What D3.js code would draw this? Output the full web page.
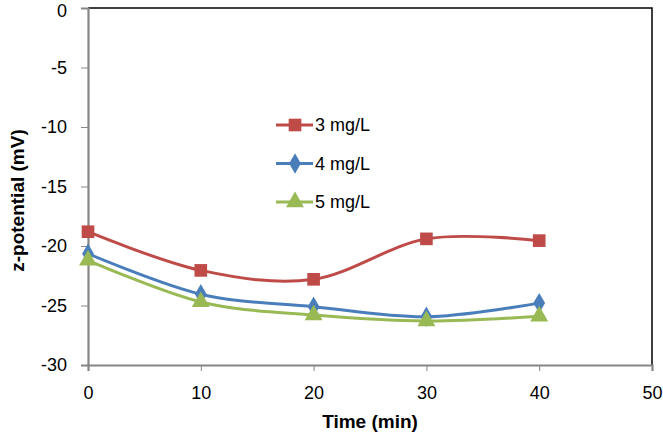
<!DOCTYPE html>
<html>
<head>
<meta charset="utf-8">
<script src="https://cdn.jsdelivr.net/npm/d3@7"></script>
<style>
  body { margin: 0; background: #fff; }
  svg { display: block; }
</style>
</head>
<body>
<div id="chart"></div>
<script>
const times = [0, 10, 20, 30, 40];
const seriesNames = ["3 mg/L", "4 mg/L", "5 mg/L"];
const values3 = [-18.8, -22.05, -22.8, -19.4, -19.55];
const values4 = [-20.65, -24.05, -25.1, -25.95, -24.8];
const values5 = [-21.2, -24.7, -25.8, -26.3, -25.9];
const xTicks = [0, 10, 20, 30, 40, 50];
const yTicks = [0, -5, -10, -15, -20, -25, -30];

const width = 663, height = 434;
const margin = { top: 8, right: 11, bottom: 69, left: 88 };

const svg = d3.select("#chart")
  .append("svg")
  .attr("width", width)
  .attr("height", height);

const x = d3.scaleLinear().domain([0, 50]).range([margin.left, width - margin.right]);
const y = d3.scaleLinear().domain([-30, 0]).range([height - margin.bottom, margin.top]);

const fontFam = "'Liberation Sans', Arial, sans-serif";
const axisColor = "#868686";

// plot area border (top & right)
svg.append("path")
  .attr("d", `M${x(0)},${y(0)}H${x(50)}V${y(-30)}`)
  .attr("fill", "none")
  .attr("stroke", "#000")
  .attr("stroke-width", 1.5);

const xAxis = svg.append("g")
  .attr("transform", `translate(0,${y(-30)})`)
  .call(d3.axisBottom(x).tickValues(xTicks).tickSize(6).tickPadding(15));
const yAxis = svg.append("g")
  .attr("transform", `translate(${x(0)},0)`)
  .call(d3.axisLeft(y).tickValues(yTicks).tickSize(7).tickPadding(14).tickFormat(d3.format("d")));

[xAxis, yAxis].forEach(ax => {
  ax.select(".domain").attr("stroke", axisColor).attr("stroke-width", 2.2);
  ax.selectAll(".tick line").attr("stroke", axisColor).attr("stroke-width", 1);
  ax.selectAll(".tick text")
    .attr("fill", "#000")
    .style("font-size", "18px")
    .style("font-family", fontFam);
});
yAxis.selectAll(".tick text")
  .text(d => d === 0 ? "0" : "-" + Math.abs(d))
  .attr("dy", d => d === 0 ? "0.45em" : "0.32em");

svg.append("text")
  .attr("x", (x(0) + x(50)) / 2)
  .attr("y", 428)
  .attr("text-anchor", "middle")
  .style("font-size", "19px")
  .style("font-weight", "bold")
  .style("font-family", fontFam)
  .text("Time (min)");

svg.append("text")
  .attr("transform", `translate(24,${(y(0) + y(-30)) / 2 + 14}) rotate(-90)`)
  .attr("text-anchor", "middle")
  .style("font-size", "19px")
  .style("font-weight", "bold")
  .style("font-family", fontFam)
  .text("z-potential (mV)");

const colors = ["#BE4B48", "#4A7EBB", "#98B954"];
const shapes = [d3.symbolSquare, d3.symbolDiamond, d3.symbolTriangle];
const sizes = [160, 120, 140];
const allValues = [values3, values4, values5];

const line = d3.line()
  .x(d => x(d.t))
  .y(d => y(d.v))
  .curve(d3.curveCatmullRom.alpha(0));

allValues.forEach((vals, i) => {
  const pts = times.map((t, j) => ({ t, v: vals[j] }));
  svg.append("path")
    .datum(pts)
    .attr("d", line)
    .attr("fill", "none")
    .attr("stroke", colors[i])
    .attr("stroke-width", 3);
  svg.append("g")
    .selectAll("path")
    .data(pts)
    .enter()
    .append("path")
    .attr("transform", d => `translate(${x(d.t)},${y(d.v)})`)
    .attr("d", d3.symbol().type(shapes[i]).size(sizes[i]))
    .attr("fill", colors[i]);
});

// legend
const legend = svg.append("g");
seriesNames.forEach((name, i) => {
  const ly = 125 + i * 38.5;
  legend.append("line")
    .attr("x1", 276).attr("x2", 313)
    .attr("y1", ly).attr("y2", ly)
    .attr("stroke", colors[i])
    .attr("stroke-width", 3);
  legend.append("path")
    .attr("transform", `translate(295,${ly})`)
    .attr("d", d3.symbol().type(shapes[i]).size(sizes[i]))
    .attr("fill", colors[i]);
  legend.append("text")
    .attr("x", 315)
    .attr("y", ly)
    .attr("dy", "0.35em")
    .style("font-size", "18px")
    .style("font-family", fontFam)
    .text(name);
});
</script>
</body>
</html>
